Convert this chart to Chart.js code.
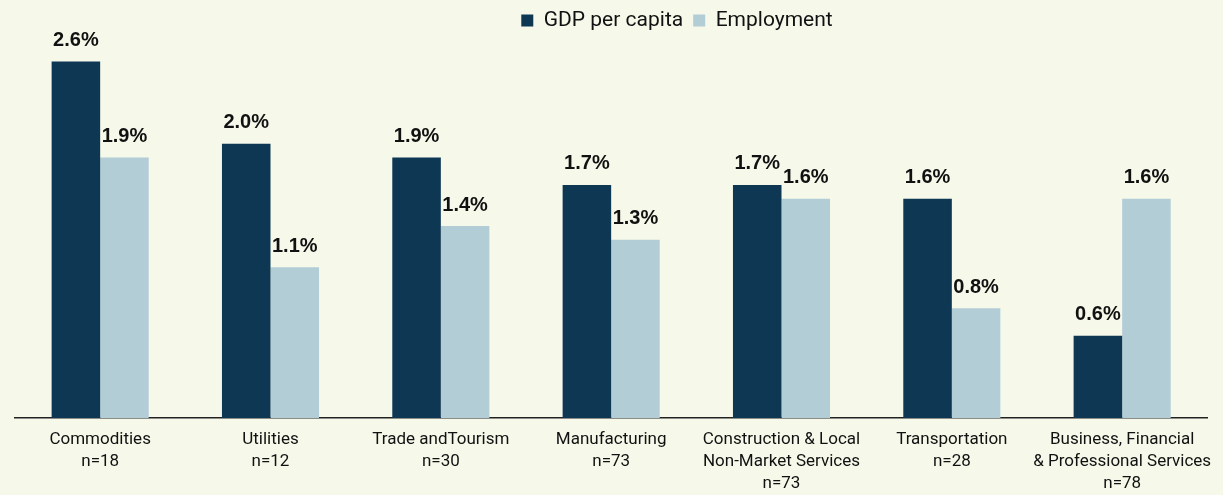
<!DOCTYPE html>
<html lang="en">
<head>
    <meta charset="UTF-8">
    <title>GDP per capita and Employment by sector</title>
    <script src="https://cdn.jsdelivr.net/npm/chart.js"></script>
    <style>
        body { margin: 0; background: #f6f9ea; }
        canvas { display: block; }
    </style>
</head>
<body>
<canvas id="myChart" width="1223" height="495"></canvas>

<script>
    const sectors = [
        ['Commodities', 'n=18'],
        ['Utilities', 'n=12'],
        ['Trade andTourism', 'n=30'],
        ['Manufacturing', 'n=73'],
        ['Construction & Local', 'Non-Market Services', 'n=73'],
        ['Transportation', 'n=28'],
        ['Business, Financial', '& Professional Services', 'n=78']
    ];
    const gdpPerCapita = [2.6, 2.0, 1.9, 1.7, 1.7, 1.6, 0.6];
    const employment = [1.9, 1.1, 1.4, 1.3, 1.6, 0.8, 1.6];

    // percent labels above the bars
    const barLabels = {
        id: 'barLabels',
        afterDatasetsDraw(chart) {
            const ctx = chart.ctx;
            ctx.save();
            ctx.font = 'bold 20px "Liberation Sans", Arial, sans-serif';
            ctx.fillStyle = '#111';
            ctx.textAlign = 'center';
            ctx.textBaseline = 'middle';
            chart.data.datasets.forEach((ds, i) => {
                chart.getDatasetMeta(i).data.forEach((bar, j) => {
                    ctx.fillText(ds.data[j].toFixed(1) + '%', bar.x, bar.y - 21);
                });
            });
            ctx.restore();
        }
    };

    // the legend sits a bit right of centre in the original
    const legendShift = {
        id: 'legendShift',
        afterLayout(chart) {
            chart.legend.left += 64;
            chart.legend.right += 64;
        }
    };

    const ctx = document.getElementById('myChart').getContext('2d');
    new Chart(ctx, {
        type: 'bar',
        data: {
            labels: sectors,
            datasets: [{
                label: 'GDP per capita',
                data: gdpPerCapita,
                backgroundColor: '#0e3754',
                barPercentage: 1,
                categoryPercentage: 0.57
            }, {
                label: 'Employment',
                data: employment,
                backgroundColor: '#b3cdd6',
                barPercentage: 1,
                categoryPercentage: 0.57
            }]
        },
        options: {
            responsive: false,
            animation: false,
            layout: { padding: { left: 15, right: 12, top: 0, bottom: 0 } },
            plugins: {
                legend: {
                    position: 'top',
                    labels: {
                        boxWidth: 12,
                        boxHeight: 12,
                        padding: 10,
                        color: '#111',
                        font: { family: 'Roboto, sans-serif', size: 21 }
                    }
                },
                tooltip: { enabled: false }
            },
            scales: {
                x: {
                    grid: { display: false, drawTicks: false },
                    border: { color: '#222', width: 1.5 },
                    ticks: {
                        color: '#111',
                        padding: 11,
                        maxRotation: 0,
                        autoSkip: false,
                        font: { family: 'Roboto, sans-serif', size: 17, lineHeight: '22px' }
                    },
                    afterFit(scale) { scale.height = 77; }
                },
                y: {
                    display: false,
                    min: 0,
                    max: 2.75
                }
            }
        },
        plugins: [barLabels, legendShift]
    });
</script>
</body>
</html>
